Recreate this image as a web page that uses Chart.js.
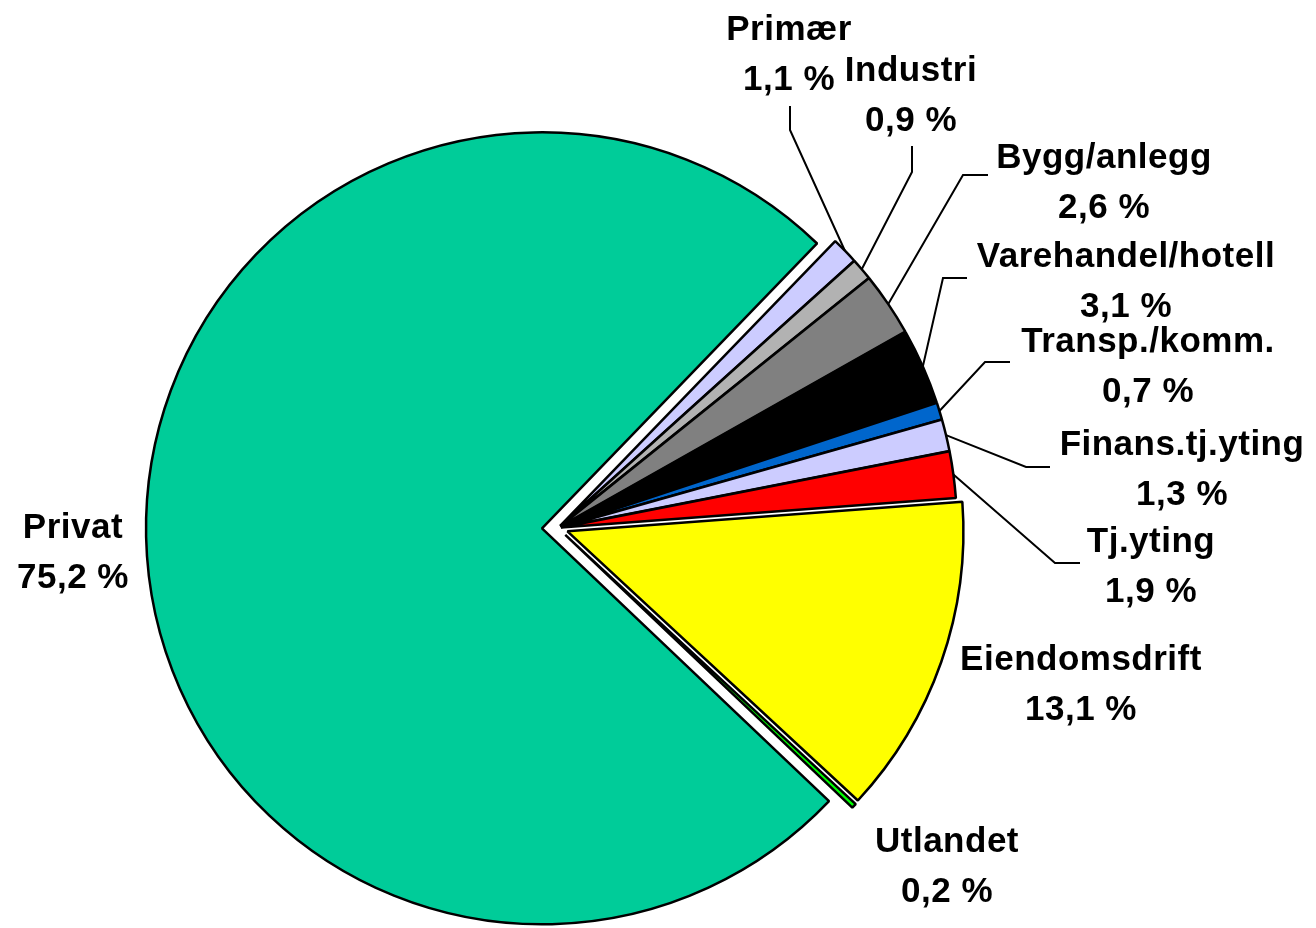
<!DOCTYPE html>
<html lang="no">
<head>
<meta charset="UTF-8">
<title>Fordeling etter sektor</title>
<script src="https://cdn.jsdelivr.net/npm/chart.js"></script>
<style>
    body {
        margin: 0;
        background: #fff;
    }
    #wrap {
        width: 1316px;
        height: 928px;
    }
</style>
</head>
<body>
<div id="wrap">
    <canvas id="pie" width="1316" height="928"></canvas>
</div>
<script>
    // data (prosent)
    const sectors = ['Primær', 'Industri', 'Bygg/anlegg', 'Varehandel/hotell', 'Transp./komm.',
        'Finans.tj.yting', 'Tj.yting', 'Eiendomsdrift', 'Utlandet', 'Privat'];
    const shares = [1.1, 0.9, 2.6, 3.1, 0.7, 1.3, 1.9, 13.1, 0.2, 75.2];
    const colours = ['#CCCCFF', '#B2B2B2', '#808080', '#000000', '#0066CC',
        '#CCCCFF', '#FF0000', '#FFFF00', '#00FF00', '#00CC99'];

    // how far each slice is pulled out of the pie, px
    const explode = [3, 3, 3, 3, 3, 3, 3, 10, 10, 16];

    // label placement: centre x, first baseline y, leader line points (elbow, end)
    const labelPos = [
        { x: 789, y: 40, leader: [[790, 130], [790, 106]] },
        { x: 911, y: 81, leader: [[912, 172], [912, 146]] },
        { x: 1104, y: 168, leader: [[963, 175], [988, 175]] },
        { x: 1126, y: 267, leader: [[943, 278], [967, 278]] },
        { x: 1148, y: 352, leader: [[985, 362], [1010, 362]] },
        { x: 1182, y: 455, leader: [[1026, 467], [1050, 467]] },
        { x: 1151, y: 552, leader: [[1055, 563], [1080, 563]] },
        { x: 1081, y: 670, leader: null },
        { x: 947, y: 852, leader: null },
        { x: 73, y: 538, leader: null }
    ];

    function fmt(v) {
        return v.toFixed(1).replace('.', ',') + ' %';
    }

    const explodePlugin = {
        id: 'explode',
        beforeDatasetsDraw(chart) {
            const area = chart.chartArea;
            const cx = (area.left + area.right) / 2;
            const cy = (area.top + area.bottom) / 2;
            chart.getDatasetMeta(0).data.forEach(function (arc, i) {
                const mid = (arc.startAngle + arc.endAngle) / 2;
                arc.x = cx + Math.cos(mid) * explode[i];
                arc.y = cy + Math.sin(mid) * explode[i];
            });
        }
    };

    const labelPlugin = {
        id: 'sliceLabels',
        afterDatasetsDraw(chart) {
            const ctx = chart.ctx;
            ctx.save();
            ctx.strokeStyle = '#000';
            ctx.lineWidth = 2;
            chart.getDatasetMeta(0).data.forEach(function (arc, i) {
                const pos = labelPos[i];
                if (pos.leader) {
                    const mid = (arc.startAngle + arc.endAngle) / 2;
                    ctx.beginPath();
                    ctx.moveTo(arc.x + Math.cos(mid) * arc.outerRadius, arc.y + Math.sin(mid) * arc.outerRadius);
                    pos.leader.forEach(function (p) {
                        ctx.lineTo(p[0], p[1]);
                    });
                    ctx.stroke();
                }
            });
            ctx.fillStyle = '#000';
            ctx.font = 'bold 35px "Liberation Sans", Arial, sans-serif';
            ctx.letterSpacing = '0.5px';
            ctx.textAlign = 'center';
            ctx.textBaseline = 'alphabetic';
            sectors.forEach(function (name, i) {
                const pos = labelPos[i];
                ctx.fillText(name, pos.x, pos.y);
                ctx.fillText(fmt(shares[i]), pos.x, pos.y + 50);
            });
            ctx.restore();
        }
    };

    new Chart(document.getElementById('pie'), {
        type: 'pie',
        data: {
            labels: sectors,
            datasets: [{
                data: shares,
                backgroundColor: colours,
                borderColor: '#000',
                borderWidth: 2.5,
                rotation: 44,
                radius: 396
            }]
        },
        options: {
            responsive: false,
            animation: false,
            events: [],
            layout: {
                padding: { left: 0, right: 200, top: 128, bottom: 0 }
            },
            plugins: {
                legend: { display: false },
                tooltip: { enabled: false }
            }
        },
        plugins: [explodePlugin, labelPlugin]
    });
</script>
</body>
</html>
